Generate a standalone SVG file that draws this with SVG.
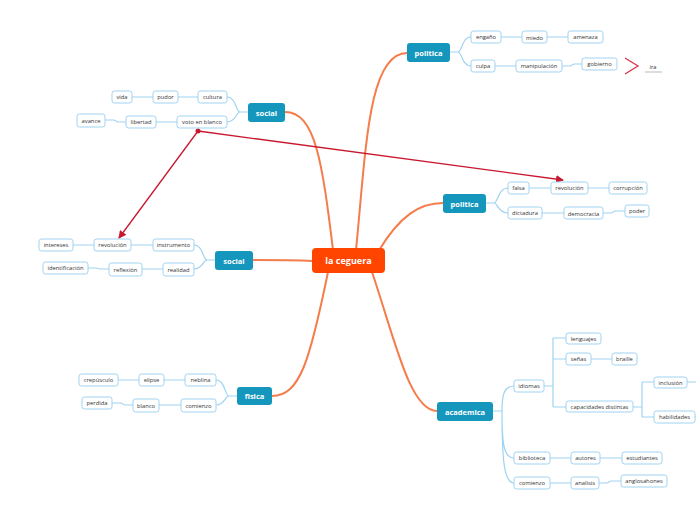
<svg xmlns="http://www.w3.org/2000/svg" width="696" height="520" viewBox="0 0 696 520">
<defs>
<style>
.n rect{fill:#fff;stroke:#9fd3f2;stroke-width:1}
.n text{font-family:"Open Sans","DejaVu Sans",sans-serif;font-size:5.8px;fill:#333;text-anchor:middle}
.t rect{fill:#1597bd}
.t text{font-family:"Open Sans","DejaVu Sans",sans-serif;font-size:7.5px;font-weight:bold;fill:#fff;text-anchor:middle}
.c rect{fill:#ff4500}
.c text{font-family:"Open Sans","DejaVu Sans",sans-serif;font-size:9px;font-weight:bold;fill:#fff;text-anchor:middle}
.b{fill:none;stroke:#9fd3f2;stroke-width:1.2}
.o{fill:none;stroke:#f57c4b;stroke-width:2}
.r{fill:none;stroke:#c8182f;stroke-width:1.3}
</style>
<marker id="ah" markerWidth="8" markerHeight="8" refX="7" refY="4" orient="auto" markerUnits="userSpaceOnUse">
<path d="M0,0 L8,4 L0,8 Z" fill="#c8182f"/>
</marker>
</defs>
<rect width="696" height="520" fill="#fff"/>
<g id="connectors">
<path class="o" d="M356,250 C366,150 368,53 407,53"/>
<path class="o" d="M333,250 C322,160 315,112 285,112"/>
<path class="o" d="M378,252 C400,215 420,203 443,203"/>
<path class="o" d="M314,261 C290,260 270,260 253,260"/>
<path class="o" d="M328,272 C310,360 300,396 272,396"/>
<path class="o" d="M372,272 C395,340 410,411 437,411"/>
<path class="b" d="M450,52 H458 C462,52 462,37 471,37 M458,52 C462,52 462,66 471,66 M501,37 H522 M547,37 H568 M495,66 H516 M562,66 H570 L574,64 H582"/>
<path class="b" d="M248,112 H240 C236,112 236,97 227,97 M240,112 C236,112 236,122 227,122 M198,97 H178 M153,97 H132 M177,122 H156 M126,122 H118 L114,120 H105"/>
<path class="b" d="M486,203 H494 C498,203 498,188 508,188 M494,203 C498,203 498,213 508,213 M529,188 H551 M588,188 H609 M542,213 H564 M603,213 H611 L615,211 H625"/>
<path class="b" d="M215,260 H207 C203,260 203,245 194,245 M207,260 C203,260 203,269 194,269 M153,245 H131 M94,245 H73 M163,269 H142 M109,269 H100 L96,268 H88"/>
<path class="b" d="M237,396 H229 C225,396 225,380 216,380 M229,396 C225,396 225,405 216,405 M185,380 H164 M139,380 H118 M181,405 H159 M133,405 H125 L121,403 H112"/>
<path class="b" d="M493,411 H502 M502,411 C502,395 504,386 514,386 M502,411 C502,445 504,458 514,458 M502,411 C502,460 504,483 514,483 M544,386 H553 M553,338 V407 M553,338 H566 M553,359 H566 M553,407 H566 M591,359 H612 M633,407 H642 M642,382 V417 M642,382 H654 M642,417 H654 M687,382 H696 M695,417 H696 M550,458 H571 M600,458 H622 M550,483 H571 M599,483 H607 L611,481 H621"/>
<path class="r" d="M198,131 L563,180" marker-end="url(#ah)"/>
<path class="r" d="M198,131 L119,238" marker-end="url(#ah)"/>
<circle cx="198" cy="131" r="2.5" fill="#c8182f"/>
<path d="M625,58 L638,66 L625,74" fill="none" stroke="#d62f45" stroke-width="1.2"/>
<line x1="645" y1="72" x2="662" y2="72" stroke="#bbb" stroke-width="1"/>
</g>
<g id="center" class="c"><rect x="312" y="248" width="73" height="25" rx="4"/><text x="348.5" y="264">la ceguera</text></g>
<g id="politica1" class="t"><rect x="407" y="43" width="43" height="19" rx="3"/><text x="428.5" y="55.5">politica</text></g>
<g id="social1" class="t"><rect x="248" y="103" width="37" height="19" rx="3"/><text x="266.5" y="115.5">social</text></g>
<g id="politica2" class="t"><rect x="443" y="194" width="43" height="19" rx="3"/><text x="464.5" y="206.5">politica</text></g>
<g id="social2" class="t"><rect x="215" y="251" width="38" height="19" rx="3"/><text x="234" y="263.5">social</text></g>
<g id="fisica" class="t"><rect x="237" y="387" width="35" height="18" rx="3"/><text x="254.5" y="399">fisica</text></g>
<g id="academica" class="t"><rect x="437" y="402" width="56" height="19" rx="3"/><text x="465" y="414.5">academica</text></g>
<g id="engano" class="n"><rect x="471" y="31" width="30" height="12" rx="2.5"/><text x="486" y="39">engaño</text></g>
<g id="miedo" class="n"><rect x="522" y="31" width="25" height="12" rx="2.5"/><text x="534.5" y="39.5">miedo</text></g>
<g id="amenaza" class="n"><rect x="568" y="31" width="35" height="12" rx="2.5"/><text x="585.5" y="39">amenaza</text></g>
<g id="culpa" class="n"><rect x="471" y="60" width="24" height="12" rx="2.5"/><text x="483" y="68">culpa</text></g>
<g id="manipulacion" class="n"><rect x="516" y="60" width="46" height="12" rx="2.5"/><text x="539" y="68">manipulación</text></g>
<g id="gobierno" class="n"><rect x="582" y="58" width="35" height="12" rx="2.5"/><text x="599.5" y="66">gobierno</text></g>
<g id="ira"><text x="653" y="68.5" style="font-family:'Open Sans','DejaVu Sans',sans-serif;font-size:5.8px;fill:#333;text-anchor:middle">ira</text></g>
<g id="vida" class="n"><rect x="112" y="91" width="20" height="12" rx="2.5"/><text x="122" y="99">vida</text></g>
<g id="pudor" class="n"><rect x="153" y="91" width="25" height="12" rx="2.5"/><text x="165.5" y="99">pudor</text></g>
<g id="cultura" class="n"><rect x="198" y="91" width="29" height="12" rx="2.5"/><text x="212.5" y="99">cultura</text></g>
<g id="avance" class="n"><rect x="77" y="114" width="28" height="13" rx="2.5"/><text x="91" y="122.5">avance</text></g>
<g id="libertad" class="n"><rect x="126" y="116" width="30" height="12" rx="2.5"/><text x="141" y="124">libertad</text></g>
<g id="voto" class="n"><rect x="177" y="116" width="50" height="12" rx="2.5"/><text x="202" y="124">voto en blanco</text></g>
<g id="falsa" class="n"><rect x="508" y="182" width="21" height="12" rx="2.5"/><text x="518.5" y="190">falsa</text></g>
<g id="revolucion1" class="n"><rect x="551" y="182" width="37" height="12" rx="2.5"/><text x="569.5" y="190">revolución</text></g>
<g id="corrupcion" class="n"><rect x="609" y="182" width="38" height="12" rx="2.5"/><text x="628" y="190">corrupción</text></g>
<g id="dictadura" class="n"><rect x="508" y="207" width="34" height="12" rx="2.5"/><text x="525" y="215">dictadura</text></g>
<g id="democracia" class="n"><rect x="564" y="207" width="39" height="12" rx="2.5"/><text x="583.5" y="215.5">democracia</text></g>
<g id="poder" class="n"><rect x="625" y="205" width="24" height="12" rx="2.5"/><text x="637" y="213">poder</text></g>
<g id="intereses" class="n"><rect x="39" y="239" width="34" height="12" rx="2.5"/><text x="56" y="247">intereses</text></g>
<g id="revolucion2" class="n"><rect x="94" y="239" width="37" height="12" rx="2.5"/><text x="112.5" y="247">revolución</text></g>
<g id="instrumento" class="n"><rect x="153" y="239" width="41" height="12" rx="2.5"/><text x="173.5" y="247">instrumento</text></g>
<g id="identificacion" class="n"><rect x="43" y="262" width="45" height="12" rx="2.5"/><text x="65.5" y="270">identificación</text></g>
<g id="reflexion" class="n"><rect x="109" y="263" width="33" height="13" rx="2.5"/><text x="125.5" y="271.5">reflexión</text></g>
<g id="realidad" class="n"><rect x="163" y="263" width="31" height="13" rx="2.5"/><text x="178.5" y="271.5">realidad</text></g>
<g id="crepusculo" class="n"><rect x="79" y="374" width="39" height="12" rx="2.5"/><text x="98.5" y="382">crepúsculo</text></g>
<g id="elipse" class="n"><rect x="139" y="374" width="25" height="12" rx="2.5"/><text x="151.5" y="382">elipse</text></g>
<g id="neblina" class="n"><rect x="185" y="374" width="31" height="12" rx="2.5"/><text x="200.5" y="382">neblina</text></g>
<g id="perdida" class="n"><rect x="82" y="397" width="30" height="12" rx="2.5"/><text x="97" y="405">perdida</text></g>
<g id="blanco" class="n"><rect x="133" y="399" width="26" height="13" rx="2.5"/><text x="146" y="407.5">blanco</text></g>
<g id="comienzo1" class="n"><rect x="181" y="399" width="35" height="13" rx="2.5"/><text x="198.5" y="407.5">comienzo</text></g>
<g id="idiomas" class="n"><rect x="514" y="380" width="30" height="12" rx="2.5"/><text x="529" y="388">idiomas</text></g>
<g id="lenguajes" class="n"><rect x="566" y="333" width="35" height="11" rx="2.5"/><text x="583.5" y="340.5">lenguajes</text></g>
<g id="senas" class="n"><rect x="566" y="353" width="25" height="12" rx="2.5"/><text x="578.5" y="361">señas</text></g>
<g id="braille" class="n"><rect x="612" y="353" width="25" height="12" rx="2.5"/><text x="624.5" y="361">braille</text></g>
<g id="capacidades" class="n"><rect x="566" y="401" width="67" height="11" rx="2.5"/><text x="599.5" y="408.5">capacidades distintas</text></g>
<g id="inclusion" class="n"><rect x="654" y="377" width="33" height="11" rx="2.5"/><text x="670.5" y="384.5">inclusión</text></g>
<g id="habilidades" class="n"><rect x="654" y="411" width="41" height="12" rx="2.5"/><text x="674.5" y="419">habilidades</text></g>
<g id="biblioteca" class="n"><rect x="514" y="452" width="36" height="12" rx="2.5"/><text x="532" y="460">biblioteca</text></g>
<g id="autores" class="n"><rect x="571" y="452" width="29" height="12" rx="2.5"/><text x="585.5" y="460">autores</text></g>
<g id="estudiantes" class="n"><rect x="622" y="452" width="40" height="12" rx="2.5"/><text x="642" y="460">estudiantes</text></g>
<g id="comienzo2" class="n"><rect x="514" y="477" width="36" height="12" rx="2.5"/><text x="532" y="485">comienzo</text></g>
<g id="analisis" class="n"><rect x="571" y="477" width="28" height="12" rx="2.5"/><text x="585" y="485">analisis</text></g>
<g id="anglosahones" class="n"><rect x="621" y="475" width="46" height="12" rx="2.5"/><text x="644" y="483">anglosahones</text></g>
</svg>
